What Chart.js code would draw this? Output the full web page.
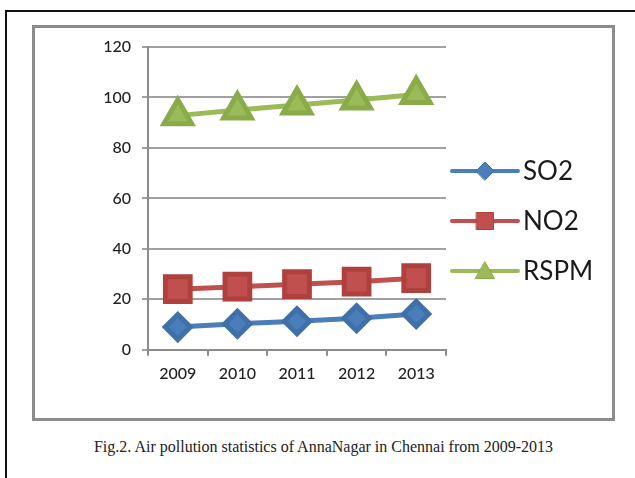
<!DOCTYPE html>
<html>
<head>
<meta charset="utf-8">
<script src="https://cdn.jsdelivr.net/npm/chart.js@4/dist/chart.umd.min.js"></script>
<style>
  body { margin: 0; background: #fff; width: 635px; height: 478px; overflow: hidden; position: relative; }
  #outer { position: absolute; left: 5px; top: 10px; width: 700px; height: 600px; border-left: 2px solid #111; border-top: 2px solid #111; }
  #box { position: absolute; left: 32px; top: 25px; width: 577px; height: 390px; border: 3px solid #8c8c8c; background: #fff; }
  #caption { position: absolute; left: 32px; width: 583px; top: 438px; text-align: center;
    font-family: "Liberation Serif", serif; font-size: 16px; color: #222; }
</style>
</head>
<body>
<div id="outer"></div>
<div id="box"><canvas id="airChart" width="577" height="390"></canvas></div>
<div id="caption">Fig.2. Air pollution statistics of AnnaNagar in Chennai from 2009-2013</div>
<script>
// Data
const years = ['2009', '2010', '2011', '2012', '2013'];
const so2Data = [9, 10.3, 11.3, 12.5, 14.2];
const no2Data = [24, 25, 26, 27, 28.4];
const rspmData = [92.8, 95, 97, 99, 101.2];
const yTicks = [0, 20, 40, 60, 80, 100, 120];

// Legend drawn Excel-style: line with marker through the middle
const sideLegend = {
    id: 'sideLegend',
    afterDraw(chart) {
        const ctx = chart.ctx;
        const x0 = 417, x1 = 483;
        const rows = [143, 193, 243];
        const sizes = [9, 12, 11];
        chart.data.datasets.forEach((ds, i) => {
            const y = rows[i];
            ctx.save();
            ctx.strokeStyle = ds.borderColor;
            ctx.lineWidth = 4;
            ctx.lineCap = 'round';
            ctx.beginPath();
            ctx.moveTo(x0, y);
            ctx.lineTo(x1, y);
            ctx.stroke();
            ctx.fillStyle = ds.pointBackgroundColor;
            ctx.strokeStyle = ds.pointBorderColor;
            ctx.lineWidth = 1;
            Chart.helpers.drawPoint(ctx, { pointStyle: ds.pointStyle, radius: sizes[i], borderWidth: 1 }, (x0 + x1) / 2, y + (ds.pointStyle === 'triangle' ? 2 : 0));
            ctx.fillStyle = '#1a1a1a';
            ctx.font = '26px Lato';
            ctx.textBaseline = 'middle';
            ctx.fillText(ds.label, x1 + 5, y + 1);
            ctx.restore();
        });
    }
};

const ctx = document.getElementById('airChart').getContext('2d');
const airChart = new Chart(ctx, {
    type: 'line',
    data: {
        labels: years,
        datasets: [{
            label: 'SO2',
            data: so2Data,
            borderColor: '#4a7ebb',
            pointBackgroundColor: '#4a7ebb',
            pointBorderColor: '#3f70aa',
            pointStyle: 'rectRot',
            pointRadius: 12.5,
            borderWidth: 5
        }, {
            label: 'NO2',
            data: no2Data,
            borderColor: '#c0504d',
            pointBackgroundColor: '#c0504d',
            pointBorderColor: '#b0403d',
            pointStyle: 'rect',
            pointRadius: 17.5,
            borderWidth: 5
        }, {
            label: 'RSPM',
            data: rspmData,
            borderColor: '#9bbb59',
            pointBackgroundColor: '#9bbb59',
            pointBorderColor: '#8aab49',
            pointStyle: 'triangle',
            pointRadius: 16,
            borderWidth: 5
        }]
    },
    options: {
        responsive: false,
        animation: false,
        layout: { autoPadding: false, padding: { top: 19, right: 166, bottom: 27, left: 0 } },
        plugins: { legend: { display: false }, tooltip: { enabled: false } },
        elements: { line: { tension: 0 }, point: { borderWidth: 1 } },
        scales: {
            x: {
                offset: true,
                grid: { offset: true, drawOnChartArea: false, drawTicks: true, tickLength: 6, color: '#8c8c8c', lineWidth: 2 },
                border: { color: '#8c8c8c', width: 2 },
                ticks: { color: '#222', font: { family: 'Lato', size: 16, weight: '500' }, padding: 8 }
            },
            y: {
                min: 0,
                max: 120,
                afterFit: s => { s.width = 113; s.paddingTop = 0; s.paddingBottom = 0; },
                afterBuildTicks: s => { s.ticks = yTicks.map(v => ({ value: v })); },
                grid: { color: '#a0a0a0', lineWidth: 2, tickLength: 6 },
                border: { color: '#8c8c8c', width: 2 },
                ticks: { color: '#222', font: { family: 'Lato', size: 16, weight: '500' }, padding: 11 }
            }
        }
    },
    plugins: [sideLegend]
});
</script>
</body>
</html>
